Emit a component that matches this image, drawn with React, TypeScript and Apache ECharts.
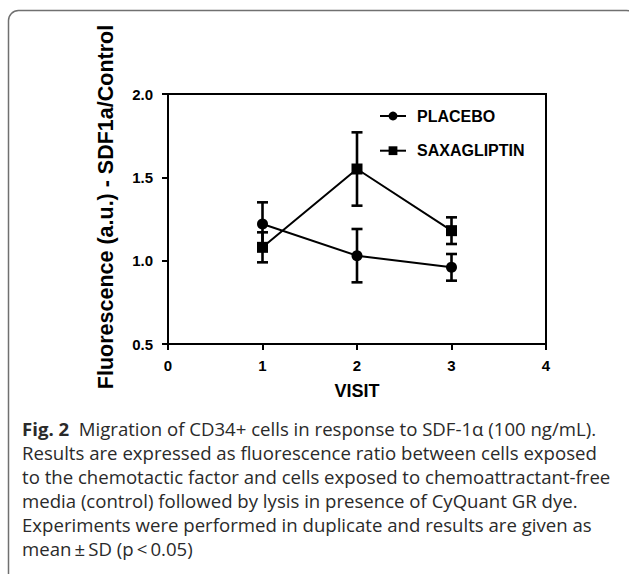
import React, { useEffect, useRef } from "react";
import * as echarts from "echarts";

const visits = [1, 2, 3];
const placeboMean = [1.22, 1.03, 0.96];
const placeboSD = [0.13, 0.16, 0.08];
const saxMean = [1.08, 1.55, 1.18];
const saxSD = [0.09, 0.22, 0.08];
const seriesNames = ["PLACEBO", "SAXAGLIPTIN"];
const xAxisTitle = "VISIT";
const yAxisTitle = "Fluorescence (a.u.) - SDF1a/Control";
const captionBold = "Fig. 2";
const captionLines = [
  "  Migration of CD34+ cells in response to SDF-1α (100 ng/mL).",
  "Results are expressed as fluorescence ratio between cells exposed",
  "to the chemotactic factor and cells exposed to chemoattractant-free",
  "media (control) followed by lysis in presence of CyQuant GR dye.",
  "Experiments were performed in duplicate and results are given as",
  "mean\u2009±\u2009SD (p\u2009<\u20090.05)",
];

const FONT = "'Liberation Sans', Arial, sans-serif";
const CAP_FONT = "'Open Sans', 'Noto Sans', sans-serif";
const CAP_SIZE = 18.6;
const CAP_COLOR = "#2a2a2a";

function errorBars(means: number[], sds: number[]) {
  return visits.map((v, i) => [v, means[i] - sds[i], means[i] + sds[i]]);
}

function renderError(params: any, api: any) {
  const x = api.value(0);
  const lo = api.value(1);
  const hi = api.value(2);
  const top = api.coord([x, hi]);
  const bot = api.coord([x, lo]);
  const w = 5.5;
  const st = { stroke: "#000", lineWidth: 2.6 };
  return {
    type: "group",
    children: [
      { type: "line", shape: { x1: top[0], y1: top[1], x2: bot[0], y2: bot[1] }, style: st },
      { type: "line", shape: { x1: top[0] - w, y1: top[1], x2: top[0] + w, y2: top[1] }, style: st },
      { type: "line", shape: { x1: bot[0] - w, y1: bot[1], x2: bot[0] + w, y2: bot[1] }, style: st },
    ],
  };
}

export default function App() {
  const ref = useRef<HTMLDivElement>(null);
  useEffect(() => {
    if (!ref.current) return;
    const chart = echarts.init(ref.current, null, { renderer: "svg" });
    const baseY = 428;
    const lineStep = 24;
    const captionGraphics: any[] = captionLines.map((t, i) => {
      if (i === 0) {
        return {
          type: "text",
          x: 22,
          y: baseY,
          style: {
            text: `{b|${captionBold}}{r|${t}}`,
            verticalAlign: "middle",
            rich: {
              b: { fontFamily: CAP_FONT, fontSize: CAP_SIZE, fontWeight: "bold", fill: CAP_COLOR },
              r: { fontFamily: CAP_FONT, fontSize: CAP_SIZE, fill: CAP_COLOR },
            },
          },
        };
      }
      return {
        type: "text",
        x: 22,
        y: baseY + i * lineStep,
        style: {
          text: t,
          fontFamily: CAP_FONT,
          fontSize: CAP_SIZE,
          fill: CAP_COLOR,
          verticalAlign: "middle",
        },
      };
    });

    chart.setOption({
      animation: false,
      backgroundColor: "#fff",
      grid: {
        left: 168,
        top: 94,
        right: 83,
        bottom: 230,
        show: true,
        borderColor: "#000",
        borderWidth: 2,
      },
      legend: {
        data: seriesNames,
        orient: "vertical",
        left: 379,
        top: 106,
        padding: 0,
        itemWidth: 26,
        itemHeight: 11,
        itemGap: 14.7,
        textStyle: {
          fontFamily: FONT,
          fontWeight: "bold",
          fontSize: 16,
          color: "#000",
          lineHeight: 20,
          padding: [0, 0, 0, 6],
        },
      },
      xAxis: {
        type: "value",
        min: 0,
        max: 4,
        interval: 1,
        splitLine: { show: false },
        axisLine: { lineStyle: { color: "#000", width: 2 } },
        axisTick: { show: true, length: 6, lineStyle: { color: "#000", width: 2 } },
        axisLabel: { color: "#000", fontFamily: FONT, fontWeight: "bold", fontSize: 15, margin: 14 },
      },
      yAxis: {
        type: "value",
        min: 0.5,
        max: 2,
        interval: 0.5,
        splitLine: { show: false },
        axisLine: { show: true, lineStyle: { color: "#000", width: 2 } },
        axisTick: { show: true, length: 6, lineStyle: { color: "#000", width: 2 } },
        axisLabel: {
          color: "#000",
          fontFamily: FONT,
          fontWeight: "bold",
          fontSize: 15,
          margin: 15,
          formatter: (v: number) => v.toFixed(1),
        },
      },
      series: [
        {
          name: seriesNames[0],
          type: "line",
          data: visits.map((v, i) => [v, placeboMean[i]]),
          symbol: "circle",
          symbolSize: 11,
          itemStyle: { color: "#000" },
          lineStyle: { color: "#000", width: 2 },
          z: 3,
        },
        {
          name: seriesNames[1],
          type: "line",
          data: visits.map((v, i) => [v, saxMean[i]]),
          symbol: "rect",
          symbolSize: 11,
          itemStyle: { color: "#000" },
          lineStyle: { color: "#000", width: 2 },
          z: 3,
        },
        {
          name: "placeboErr",
          type: "custom",
          data: errorBars(placeboMean, placeboSD),
          encode: { x: 0, y: [1, 2] },
          renderItem: renderError,
          z: 4,
        },
        {
          name: "saxErr",
          type: "custom",
          data: errorBars(saxMean, saxSD),
          encode: { x: 0, y: [1, 2] },
          renderItem: renderError,
          z: 4,
        },
      ],
      graphic: [
        {
          type: "rect",
          shape: { x: 8.5, y: 10.5, width: 628, height: 620, r: 10 },
          style: { fill: "none", stroke: "#707070", lineWidth: 1.5 },
          silent: true,
        },
        {
          type: "text",
          x: 106,
          y: 207,
          rotation: Math.PI / 2,
          style: {
            text: yAxisTitle,
            fontFamily: FONT,
            fontWeight: "bold",
            fontSize: 21.5,
            fill: "#000",
            align: "center",
            verticalAlign: "middle",
          },
        },
        {
          type: "text",
          x: 357,
          y: 391,
          style: {
            text: xAxisTitle,
            fontFamily: FONT,
            fontWeight: "bold",
            fontSize: 18,
            fill: "#000",
            align: "center",
            verticalAlign: "middle",
          },
        },
        ...captionGraphics,
      ],
    });
    return () => chart.dispose();
  }, []);
  return (
    <div
      ref={ref}
      style={{ position: "fixed", left: 0, top: 0, width: 629, height: 574, background: "#fff" }}
    />
  );
}
